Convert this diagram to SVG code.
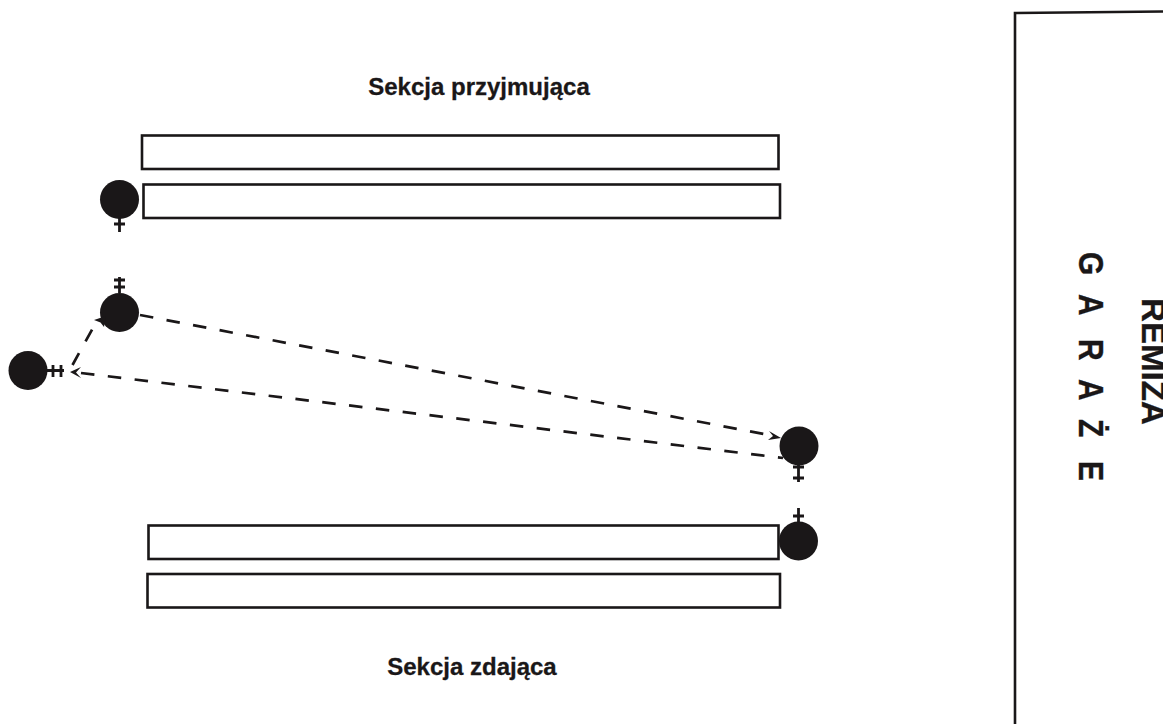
<svg xmlns="http://www.w3.org/2000/svg" width="1163" height="724" viewBox="0 0 1163 724">
<style>
.t{font-family:"Liberation Sans",Arial,sans-serif;font-weight:700;fill:#1a1718;stroke:#1a1718;stroke-width:.3}
.r{fill:#fff;stroke:#1a1718;stroke-width:2.6}
.n{fill:#1a1718}
.m{fill:none;stroke:#1a1718;stroke-width:2.8}
.c{fill:none;stroke:#1a1718;stroke-width:2.7;stroke-dasharray:13.500 13.500}
.h{fill:#1a1718;stroke:none}
</style>
<rect width="1163" height="724" fill="#fff"/>
<g id="garage-wall"><path d="M1163 11.500L1015 13V724" fill="none" stroke="#1a1718" stroke-width="2.600"/></g>
<g id="label-receiving"><text class="t" x="479" y="95" font-size="24" text-anchor="middle">Sekcja przyjmująca</text></g>
<g id="label-handing"><text class="t" x="472" y="675" font-size="24" text-anchor="middle">Sekcja zdająca</text></g>
<g id="label-remiza"><text class="t" transform="translate(1142 298) rotate(90)" font-size="33" textLength="127" lengthAdjust="spacingAndGlyphs">REMIZA</text></g>
<g id="label-garaze"><text class="t" transform="translate(1079 252) rotate(90) scale(1 1.150)" font-size="30" x="0 42 87 127 167 209" y="0">GARAŻE</text></g>
<g id="track-1"><rect class="r" x="142" y="135.500" width="636.500" height="33.500"/></g>
<g id="track-2"><rect class="r" x="143.500" y="184.500" width="636.500" height="33.500"/></g>
<g id="track-3"><rect class="r" x="148.500" y="525.500" width="630" height="33.500"/></g>
<g id="track-4"><rect class="r" x="147.500" y="574" width="632.500" height="33.500"/></g>
<g id="signal-a"><circle class="n" cx="119.500" cy="199.500" r="19.500"/><path class="m" d="M119.500 218V232M114 224H125"/></g>
<g id="signal-b"><circle class="n" cx="119.500" cy="312.500" r="19.500"/><path class="m" d="M119.500 293V277M114 280H125M114 287H125"/></g>
<g id="signal-c"><circle class="n" cx="28" cy="370.500" r="19.500"/><path class="m" d="M47 370.500H64M53 365V377M61 365V377"/></g>
<g id="signal-d"><circle class="n" cx="799" cy="446" r="19.500"/><path class="m" d="M798.500 465V482M793 467H804M793 478H804"/></g>
<g id="signal-e"><circle class="n" cx="798.500" cy="541" r="19.500"/><path class="m" d="M798.500 522V508M793 516H804"/></g>
<g id="connectors">
<path class="c" d="M72.500 365L94 326"/>
<path class="h" d="M94 320L106 316L104 327L100.500 322.500Z"/>
<path class="c" d="M140 315L769 435"/>
<path class="h" d="M769 431L781 438L768 440L773 436Z"/>
<path class="c" d="M81 373L783 458"/>
<path class="h" d="M81 367L70 372L81 378L76 372.500Z"/>
</g>
</svg>
